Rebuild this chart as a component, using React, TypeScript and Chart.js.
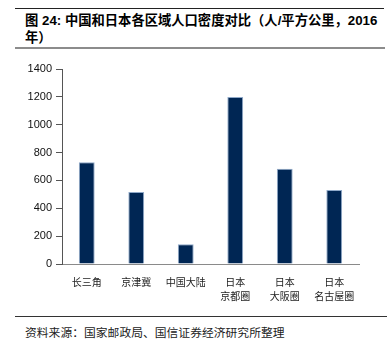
import React, { useEffect, useRef } from "react";
import { Chart, registerables } from "chart.js";

Chart.register(...registerables);

const categories: string[][] = [["长三角"], ["京津冀"], ["中国大陆"], ["日本", "京都圈"], ["日本", "大阪圈"], ["日本", "名古屋圈"]];
const density: number[] = [730, 517, 141, 1199, 684, 531];
const yTicks = { min: 0, max: 1400, step: 200 };

const titleLine1 = "图 24: 中国和日本各区域人口密度对比（人/平方公里，2016";
const titleLine2 = "年）";
const sourceText = "资料来源：国家邮政局、国信证券经济研究所整理";

export default function App() {
  const ref = useRef<HTMLCanvasElement | null>(null);

  useEffect(() => {
    if (!ref.current) return;
    const chart = new Chart(ref.current, {
      type: "bar",
      data: {
        labels: categories,
        datasets: [
          {
            data: density,
            backgroundColor: "#002654",
            borderColor: "#8fa9c9",
            borderWidth: 1,
            barPercentage: 0.32,
            categoryPercentage: 1,
          },
        ],
      },
      options: {
        animation: false,
        responsive: false,
        maintainAspectRatio: false,
        layout: { padding: { left: 0, right: 33, top: 14, bottom: 0 } },
        plugins: { legend: { display: false }, tooltip: { enabled: false } },
        scales: {
          x: {
            grid: { display: false, drawTicks: false },
            border: { display: true, color: "#8a8a8a", width: 1 },
            ticks: {
              padding: 11,
              color: "#222",
              maxRotation: 0,
              autoSkip: false,
              font: { family: "'Noto Sans CJK SC'", size: 10, lineHeight: 1.4 },
            },
            afterFit: (s: any) => {
              s.height = 46;
            },
          },
          y: {
            min: yTicks.min,
            max: yTicks.max,
            grid: { drawOnChartArea: false, drawTicks: true, tickLength: 6, color: "#555" },
            border: { display: true, color: "#555", width: 1 },
            ticks: {
              stepSize: yTicks.step,
              padding: 4,
              color: "#111",
              font: { family: "'Liberation Sans', Arial", size: 11 },
              callback: (v: any) => String(v),
            },
            afterFit: (s: any) => {
              s.width = 62;
            },
          },
        },
      },
    });
    return () => chart.destroy();
  }, []);

  return (
    <div style={{ position: "absolute", left: 0, top: 0, width: 392, height: 352, background: "#fff", overflow: "hidden" }}>
      <div style={{ position: "absolute", left: 15, top: 8, width: 369, height: 1, background: "#222" }} />
      <div
        style={{
          position: "absolute",
          left: 25,
          top: 12,
          fontFamily: "'Liberation Sans', 'Noto Sans CJK SC', sans-serif",
          fontWeight: "bold",
          fontSize: 13.3,
          lineHeight: "17px",
          color: "#000",
          whiteSpace: "nowrap",
        }}
      >
        <div>{titleLine1}</div>
        <div>{titleLine2}</div>
      </div>
      <div style={{ position: "absolute", left: 15, top: 47, width: 370, height: 2, background: "#8c8c8c" }} />
      <canvas ref={ref} width={392} height={255} style={{ position: "absolute", left: 0, top: 55, width: 392, height: 255 }} />
      <div style={{ position: "absolute", left: 15, top: 316, width: 372, height: 1, background: "#333" }} />
      <div
        style={{
          position: "absolute",
          left: 25,
          top: 324,
          fontFamily: "'Noto Sans CJK SC', sans-serif",
          fontSize: 11.8,
          lineHeight: "16px",
          color: "#222",
          whiteSpace: "nowrap",
        }}
      >
        {sourceText}
      </div>
    </div>
  );
}
